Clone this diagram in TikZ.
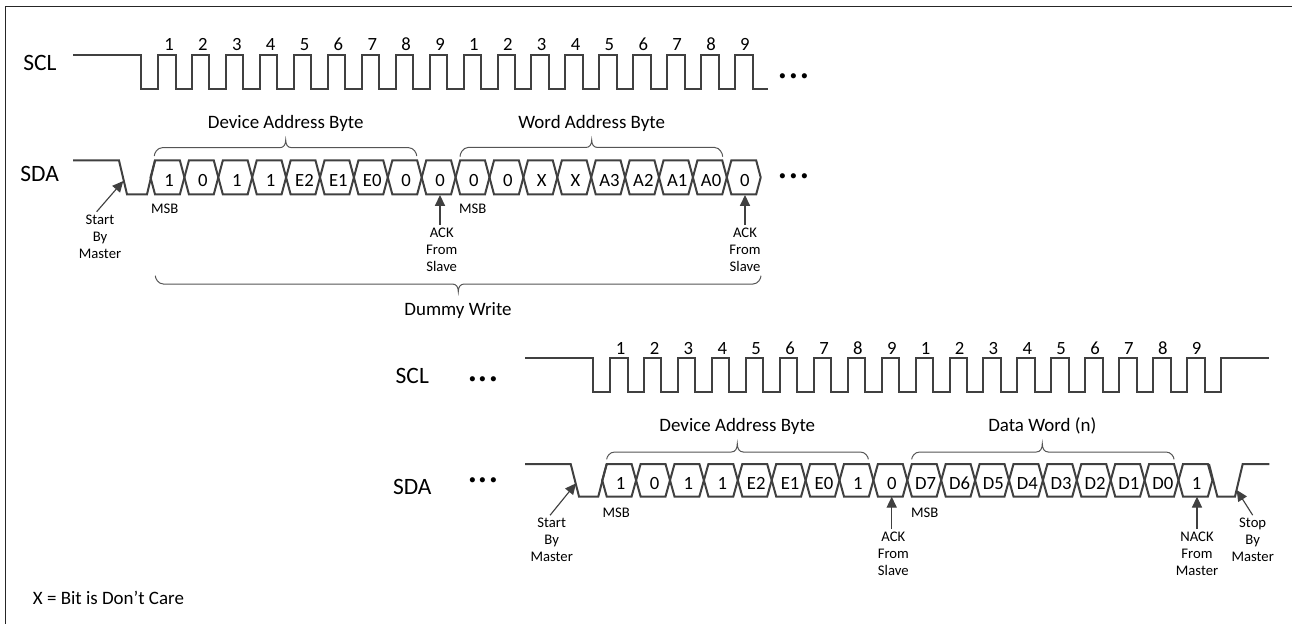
\documentclass[tikz,border=0pt]{standalone}
\usepackage{fontspec}
\setmainfont{Carlito}
\usetikzlibrary{arrows.meta}
\definecolor{wave}{HTML}{404040}
\definecolor{thin}{HTML}{555555}
\tikzset{
  sig/.style={draw=wave,line width=1.5pt,line join=miter},
  brc/.style={draw=thin,line width=0.75pt},
  arr/.style={draw=wave,line width=0.85pt,-{Triangle[length=8.2pt,width=7.6pt]}},
  txt/.style={inner sep=0pt,anchor=base,text=black},
  big/.style={txt,font=\fontsize{17.6pt}{17.6pt}\selectfont},
  mid/.style={txt,font=\fontsize{14.2pt}{14.2pt}\selectfont},
  cell/.style={txt,font=\fontsize{14pt}{14pt}\selectfont},
  small/.style={txt,font=\fontsize{11pt}{12.9pt}\selectfont},
  note/.style={inner xsep=0pt,inner ysep=1.9pt,anchor=center,align=center,text=black,font=\fontsize{11pt}{12.9pt}\selectfont},
  dots/.style={txt,font=\fontsize{32pt}{32pt}\selectfont},
}
% x0 x1 xc yend yh ytip
\newcommand{\bracket}[6]{%
  \draw[brc] (#1,#4) .. controls (#1,{#4+0.35*(#5-#4)}) and ({#1+3},#5) .. ({#1+8},#5)
    -- ({#3-6},#5) .. controls ({#3-2},#5) and (#3,{#5+0.4*(#6-#5)}) .. (#3,#6)
    .. controls (#3,{#5+0.4*(#6-#5)}) and ({#3+2},#5) .. ({#3+6},#5)
    -- ({#2-8},#5) .. controls ({#2-3},#5) and (#2,{#4+0.35*(#5-#4)}) .. (#2,#4);}
% group prefix, tip0, text c0, yt, yb, text baseline, list
\newcommand{\hexrow}[7]{%
  \foreach \k/\t in {#7}{
    \draw[sig] ({#2+33.9*\k},{(#4+#5)/2}) -- ({#2+33.9*\k+4.5},#4) -- ({#2+33.9*(\k+1)-4.5},#4)
      -- ({#2+33.9*(\k+1)},{(#4+#5)/2}) -- ({#2+33.9*(\k+1)-4.5},#5) -- ({#2+33.9*\k+4.5},#5) -- cycle;
    \node[cell] (#1cell\k) at ({#3+33.88*\k},#6) {\t};
  }}
% prefix, text c0, digit baseline
\newcommand{\digitrow}[3]{%
  \foreach \k/\t in {0/1,1/2,2/3,3/4,4/5,5/6,6/7,7/8,8/9,9/1,10/2,11/3,12/4,13/5,14/6,15/7,16/8,17/9}{
    \node[cell] (#1dig\k) at ({#2+33.88*\k},#3) {\t};
  }}
\begin{document}
\begin{tikzpicture}[x=0.75pt,y=-0.75pt]
\useasboundingbox (0,0) rectangle (1292,624);
% frame (left and top edges)
\draw[draw=black!85,line width=0.9pt] (5.5,624) -- (5.5,6.5) -- (1292,6.5);

% ---------- upper SCL
\node[big] (sclA) at (40,71) {SCL};
\draw[sig] (73,55.5) -- (141.3,55.5) -- (141.3,89.5)
  \foreach \k in {0,...,17}{ -- ({158+33.95*\k},89.5) -- ({158+33.95*\k},55.5) -- ({175.5+33.95*\k},55.5) -- ({175.5+33.95*\k},89.5) }
  -- (768,89.5);
\digitrow{a}{169}{51}
\node[dots] (dotsA) at (794,79) {...};

% ---------- upper SDA
\node[big] (sdaA) at (39.7,182) {SDA};
\draw[sig] (73,160.5) -- (119,160.5) -- (127,194.3) -- (147,194.3) -- (155,160.5);
\hexrow{a}{150.5}{169}{160.5}{194.3}{186}{0/1,1/0,2/1,3/1,4/E2,5/E1,6/E0,7/0,8/0,9/0,10/0,11/X,12/X,13/A3,14/A2,15/A1,16/A0,17/0}
\node[dots] (dotsB) at (794,178.2) {...};

\bracket{154.3}{416.7}{285.7}{156}{147.7}{140}
\node[mid] (devA) at (285.7,129) {Device Address Byte};
\bracket{460}{722.7}{591.7}{156.7}{147.5}{140}
\node[mid] (wordA) at (591.7,129) {Word Address Byte};
\bracket{155.3}{761}{458.3}{275.7}{284}{291.7}
\node[mid] (dummy) at (458,315) {Dummy Write};

\node[small] (msbA) at (164.7,213.3) {MSB};
\node[small] (msbB) at (472.7,213.3) {MSB};

\coordinate (startAtip) at (123.3,181);
\coordinate (ackAtip) at (440,195);
\coordinate (ackBtip) at (745,195);
\node[note] (startA) at (100,236.5) {Start\\By\\Master};
\node[note] (ackA) at (441.7,250) {ACK\\From\\Slave};
\node[note] (ackB) at (745,250) {ACK\\From\\Slave};
\draw[arr] ([xshift=-2.5pt]startA.north) -- (startAtip);
\draw[arr] (ackA.north -| ackAtip) -- (ackAtip);
\draw[arr] (ackB.north -| ackBtip) -- (ackBtip);

% ---------- lower SCL
\node[big] (sclB) at (412.3,383.3) {SCL};
\node[dots] (dotsC) at (483.3,381.7) {...};
\draw[sig] (525,358.3) -- (593.3,358.3) -- (593.3,392.3)
  \foreach \k in {0,...,17}{ -- ({610+33.95*\k},392.3) -- ({610+33.95*\k},358.3) -- ({627.5+33.95*\k},358.3) -- ({627.5+33.95*\k},392.3) }
  -- (1220.7,392.3) -- (1220.7,358.3) -- (1269.3,358.3);
\digitrow{b}{620.7}{354}

% ---------- lower SDA
\node[big] (sdaB) at (412.3,494.3) {SDA};
\node[dots] (dotsD) at (483.3,482.5) {...};
\draw[sig] (525,464) -- (570.7,464) -- (579,496.5) -- (598.3,496.5) -- (606.7,464);
\hexrow{b}{602.2}{620.7}{464}{496.5}{489}{0/1,1/0,2/1,3/1,4/E2,5/E1,6/E0,7/1,8/0,9/D7,10/D6,11/D5,12/D4,13/D3,14/D2,15/D1,16/D0,17/1}
\draw[sig] (1209,464) -- (1217.3,496.5) -- (1235,496.5) -- (1242.7,464) -- (1269.3,464);

\bracket{606.7}{868.3}{737.3}{459.3}{452}{443.7}
\node[mid] (devB) at (737.3,431.7) {Device Address Byte};
\bracket{911.7}{1174}{1042.3}{459.3}{452}{443.7}
\node[mid] (dataB) at (1042.3,431.7) {Data Word (n)};

\node[small] (msbC) at (616.3,517.7) {MSB};
\node[small] (msbD) at (924.7,517.7) {MSB};

\coordinate (startBtip) at (576,483.3);
\coordinate (ackCtip) at (891.7,496.7);
\coordinate (nackTip) at (1197,496.7);
\coordinate (stopTip) at (1236.7,490);
\node[note] (startB) at (551.7,540) {Start\\By\\Master};
\node[note] (ackC) at (893.3,554) {ACK\\From\\Slave};
\node[note] (nack) at (1197,554) {NACK\\From\\Master};
\node[note] (stop) at (1252.7,540) {Stop\\By\\Master};
\draw[arr] ([xshift=-1.2pt]startB.north) -- (startBtip);
\draw[arr] (ackC.north -| ackCtip) -- (ackCtip);
\draw[arr] (nack.north -| nackTip) -- (nackTip);
\draw[arr] (stop.north) -- (stopTip);

\node[mid,anchor=base west] (legend) at (32.7,604) {X = Bit is Don’t Care};
\end{tikzpicture}
\end{document}
